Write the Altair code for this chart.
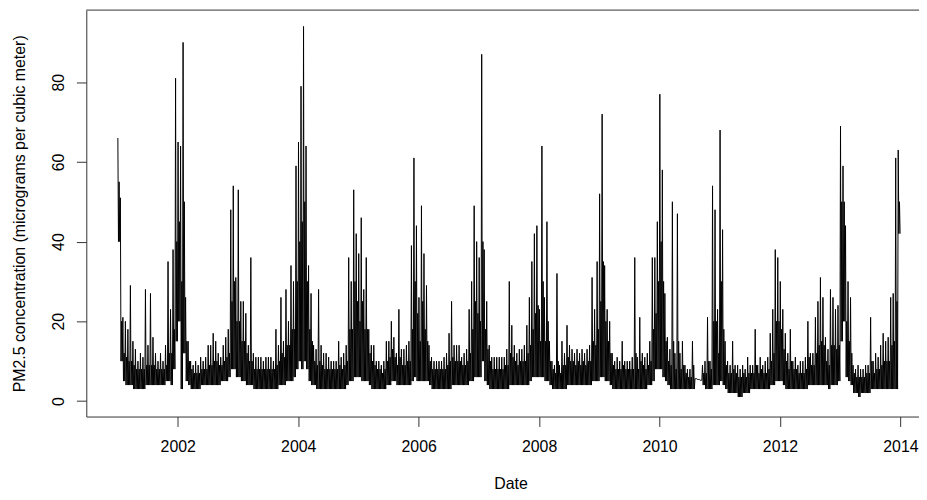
import altair as alt
import pandas as pd

# Half-month bins per year:
#   hi   = highest daily value in the bin (spike tops)
#   lo   = lowest daily value in the bin (floor of the band)
#   band = top of the solid black band (typical daily level)
years = list(range(2001, 2014))

hi_2001 = [66, 51, 21, 20, 18, 29, 15, 13, 10, 12, 11, 28, 14, 27, 16, 12, 10, 12, 10, 14, 35, 23, 38, 81]
lo_2001 = [40, 10, 5, 4, 4, 4, 3, 3, 3, 3, 3, 4, 4, 4, 4, 4, 4, 4, 4, 5, 5, 4, 8, 15]
band_2001 = [55, 20, 12, 11, 10, 10, 9, 8, 8, 8, 8, 9, 9, 9, 9, 8, 8, 8, 8, 9, 12, 12, 18, 40]

hi_2002 = [65, 64, 90, 26, 15, 10, 9, 10, 9, 11, 10, 11, 14, 14, 17, 15, 12, 11, 14, 16, 18, 48, 54, 31]
lo_2002 = [20, 3, 12, 5, 4, 3, 3, 3, 3, 4, 4, 4, 4, 4, 4, 4, 4, 5, 5, 5, 6, 8, 8, 6]
band_2002 = [45, 30, 50, 15, 10, 8, 7, 7, 7, 8, 8, 8, 9, 9, 10, 10, 9, 9, 10, 11, 12, 25, 30, 20]

hi_2003 = [53, 25, 25, 22, 14, 36, 12, 11, 11, 11, 10, 11, 11, 11, 10, 18, 14, 26, 15, 28, 20, 34, 30, 59]
lo_2003 = [6, 5, 5, 4, 4, 4, 3, 3, 3, 3, 3, 3, 3, 3, 3, 3, 4, 4, 4, 5, 5, 5, 6, 8]
band_2003 = [20, 15, 15, 12, 10, 10, 8, 8, 8, 8, 8, 8, 8, 8, 8, 9, 10, 12, 11, 14, 14, 18, 18, 30]

hi_2004 = [65, 79, 94, 64, 34, 27, 14, 13, 28, 14, 12, 12, 11, 10, 10, 10, 15, 11, 12, 14, 36, 30, 53, 42]
lo_2004 = [10, 8, 10, 8, 5, 4, 4, 3, 3, 3, 3, 3, 3, 3, 3, 3, 3, 3, 3, 4, 5, 5, 6, 6]
band_2004 = [40, 45, 50, 30, 18, 15, 10, 9, 10, 9, 8, 8, 8, 8, 8, 8, 9, 8, 9, 10, 18, 18, 30, 25]

hi_2005 = [37, 46, 28, 36, 18, 14, 14, 10, 10, 9, 10, 15, 15, 20, 16, 12, 23, 13, 13, 14, 15, 39, 61, 44]
lo_2005 = [6, 5, 5, 5, 4, 3, 3, 3, 3, 3, 3, 4, 4, 5, 5, 4, 4, 4, 4, 4, 4, 5, 6, 5]
band_2005 = [20, 25, 18, 18, 12, 10, 9, 8, 8, 7, 8, 10, 11, 13, 11, 9, 11, 9, 9, 10, 10, 18, 30, 22]

hi_2006 = [26, 49, 37, 29, 14, 11, 10, 10, 10, 10, 11, 12, 17, 25, 14, 14, 14, 11, 12, 13, 23, 30, 49, 40]
lo_2006 = [5, 5, 5, 5, 4, 3, 3, 3, 3, 3, 3, 3, 3, 4, 4, 4, 4, 4, 4, 4, 5, 5, 6, 6]
band_2006 = [15, 25, 18, 15, 10, 8, 8, 8, 8, 8, 8, 9, 10, 11, 10, 10, 10, 9, 9, 10, 12, 18, 25, 22]

hi_2007 = [36, 87, 38, 25, 14, 11, 11, 11, 11, 11, 11, 13, 30, 19, 14, 12, 13, 13, 14, 19, 26, 35, 42, 44]
lo_2007 = [6, 10, 5, 4, 3, 3, 3, 3, 3, 3, 3, 3, 4, 4, 4, 4, 4, 4, 4, 4, 5, 6, 6, 6]
band_2007 = [20, 40, 18, 13, 10, 8, 8, 8, 8, 8, 9, 9, 12, 11, 10, 9, 10, 10, 10, 12, 14, 18, 22, 24]

hi_2008 = [23, 64, 26, 45, 15, 10, 9, 32, 9, 15, 12, 19, 14, 13, 12, 13, 12, 13, 12, 13, 14, 31, 23, 35]
lo_2008 = [6, 6, 5, 5, 4, 3, 3, 3, 3, 3, 3, 4, 4, 4, 4, 4, 4, 4, 4, 4, 4, 5, 5, 5]
band_2008 = [15, 30, 15, 20, 10, 8, 7, 10, 7, 9, 9, 11, 10, 10, 9, 10, 9, 10, 9, 10, 10, 15, 14, 18]

hi_2009 = [52, 72, 34, 23, 20, 12, 10, 11, 10, 15, 10, 10, 10, 11, 36, 11, 21, 12, 11, 12, 15, 36, 36, 45]
lo_2009 = [6, 6, 5, 5, 4, 3, 3, 3, 3, 3, 3, 3, 3, 3, 3, 3, 3, 3, 3, 4, 4, 5, 8, 8]
band_2009 = [25, 35, 20, 15, 12, 9, 8, 8, 8, 9, 8, 8, 8, 8, 12, 8, 10, 9, 8, 9, 10, 18, 22, 30]

hi_2010 = [77, 58, 27, 16, 13, 50, 12, 47, 12, 15, 9, 8, 8, 15, 5.6, 5.4, 5.2, 9, 10, 21, 10, 54, 48, 23]
lo_2010 = [8, 6, 5, 4, 3, 3, 3, 3, 3, 3, 3, 3, 3, 3, 5.6, 5.4, 5.2, 4, 3, 3, 3, 4, 4, 4]
band_2010 = [40, 30, 15, 10, 9, 15, 8, 15, 8, 9, 7, 6, 6, 9, 5.6, 5.4, 5.2, 7, 7, 10, 8, 20, 20, 12]

hi_2011 = [68, 43, 15, 10, 9, 15, 9, 9, 8, 9, 8, 11, 9, 9, 18, 9, 11, 9, 10, 11, 17, 23, 38, 36]
lo_2011 = [5, 4, 3, 2, 2, 2, 2, 1, 1, 2, 2, 2, 3, 3, 3, 3, 3, 3, 3, 3, 4, 4, 5, 5]
band_2011 = [30, 18, 9, 7, 7, 8, 7, 6, 6, 7, 6, 7, 7, 7, 9, 7, 8, 7, 7, 8, 10, 12, 20, 20]

hi_2012 = [30, 23, 17, 12, 18, 10, 11, 9, 10, 10, 11, 20, 12, 12, 21, 25, 31, 26, 16, 13, 28, 26, 23, 24]
lo_2012 = [5, 4, 3, 3, 3, 3, 3, 3, 3, 3, 3, 4, 4, 4, 4, 4, 4, 4, 4, 3, 4, 4, 4, 5]
band_2012 = [18, 13, 10, 8, 10, 8, 8, 7, 7, 7, 8, 11, 9, 9, 12, 14, 15, 14, 10, 9, 14, 14, 13, 14]

hi_2013 = [69, 59, 44, 30, 26, 9, 8, 9, 8, 8, 9, 9, 21, 10, 12, 11, 14, 17, 15, 16, 26, 27, 61, 63]
lo_2013 = [15, 20, 6, 5, 4, 2, 2, 1, 2, 2, 2, 2, 3, 3, 3, 3, 3, 3, 3, 3, 3, 3, 3, 42]
band_2013 = [50, 50, 20, 15, 12, 7, 6, 6, 6, 6, 7, 7, 10, 7, 8, 8, 9, 10, 10, 10, 14, 15, 25, 50]

x_ticks = [2002, 2004, 2006, 2008, 2010, 2012, 2014]
y_ticks = [0, 20, 40, 60, 80]

hi_by_year = [hi_2001, hi_2002, hi_2003, hi_2004, hi_2005, hi_2006, hi_2007,
              hi_2008, hi_2009, hi_2010, hi_2011, hi_2012, hi_2013]
lo_by_year = [lo_2001, lo_2002, lo_2003, lo_2004, lo_2005, lo_2006, lo_2007,
              lo_2008, lo_2009, lo_2010, lo_2011, lo_2012, lo_2013]
band_by_year = [band_2001, band_2002, band_2003, band_2004, band_2005, band_2006, band_2007,
                band_2008, band_2009, band_2010, band_2011, band_2012, band_2013]

rows = []
for yr, hs, ls, bs in zip(years, hi_by_year, lo_by_year, band_by_year):
    for k, (h, l, b) in enumerate(zip(hs, ls, bs)):
        rows.append({"t": yr + (k + 0.125) / 24, "pm": h})
        rows.append({"t": yr + (k + 0.375) / 24, "pm": l})
        rows.append({"t": yr + (k + 0.625) / 24, "pm": b})
        rows.append({"t": yr + (k + 0.875) / 24, "pm": l})
df = pd.DataFrame(rows)

PX_PER_YEAR = 60.75
W, H = 840, 410
x_left = 2001.0 - 31.5 / PX_PER_YEAR
x_right = x_left + W / PX_PER_YEAR
FONT = "Liberation Sans"

line = alt.Chart(df).mark_line(color="black", strokeWidth=1, clip=True).encode(
    x=alt.X(
        "t:Q",
        scale=alt.Scale(domain=[x_left, x_right], nice=False, zero=False),
        axis=alt.Axis(
            title="Date", values=x_ticks, format="d", grid=False,
            tickSize=10, labelPadding=25, labelBaseline="alphabetic",
            titleX=428, titleY=73, titleAlign="center", titleBaseline="alphabetic",
        ),
    ),
    y=alt.Y(
        "pm:Q",
        scale=alt.Scale(domain=[-3.9, 98.1], nice=False, zero=False),
        axis=alt.Axis(
            title="PM2.5 concentration (micrograms per cubic meter)", values=y_ticks,
            grid=False, tickSize=10, labelAngle=270, labelAlign="center",
            labelBaseline="alphabetic", labelPadding=13.5,
            titleAngle=270, titleX=-62, titleY=205, titleAlign="center",
            titleBaseline="alphabetic",
        ),
    ),
)

top_edge = alt.Chart(alt.Data(values=[{"a": 0}])).mark_rule(color="#333", strokeWidth=1).encode(
    y=alt.value(0)
)

chart = alt.layer(line, top_edge).properties(
    width=W, height=H,
    autosize=alt.AutoSizeParams(type="none"),
    padding={"left": 79, "top": 0, "right": 0, "bottom": 74},
).configure_view(stroke=None).configure_axis(
    domainColor="#333", tickColor="#333", labelColor="black", titleColor="black",
    labelFont=FONT, titleFont=FONT, labelFontSize=16, titleFontSize=16,
    titleFontWeight="normal", labelOverlap=False,
)

chart.save("out.html", embed_options={"renderer": "svg", "actions": False})
